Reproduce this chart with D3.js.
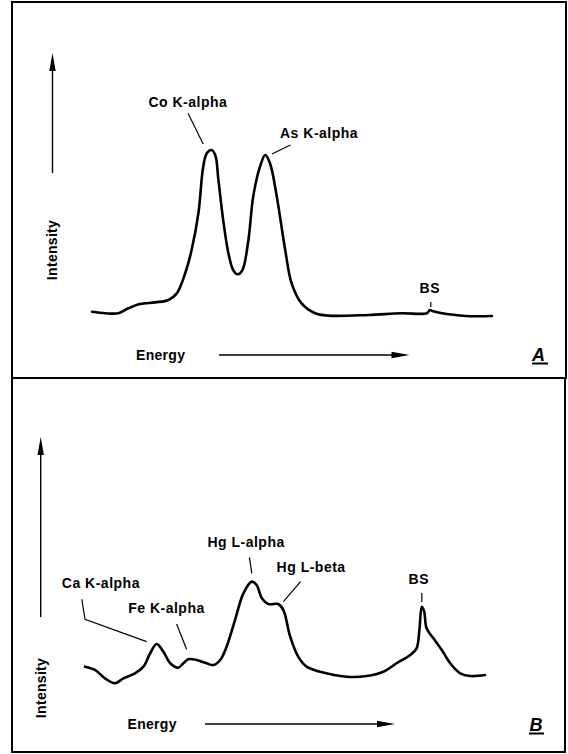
<!DOCTYPE html>
<html>
<head>
<meta charset="utf-8">
<script src="https://cdn.jsdelivr.net/npm/d3@7"></script>
<style>
  html, body { margin: 0; padding: 0; background: #fff; }
  svg { display: block; }
  text { font-family: "Liberation Sans", Arial, Helvetica, sans-serif; font-weight: bold; fill: #000; }
</style>
</head>
<body>
<svg id="chart" width="568" height="754"></svg>
<script>
// ---- Panel A: energy (arbitrary units 0-100) and intensity (relative, 0-100)
const energyA = [0, 3.3, 6.6, 9.1, 12, 15.8, 19.1, 21.2, 23.3, 24.9, 26.6, 27.8, 28.7, 29.8, 30.8, 31.6, 32.8, 34.1, 35.3, 36.4, 37.6, 39.1, 40.3, 42, 43.3, 44.5, 46.2, 48.3, 49.9, 52.4, 55.8, 59.1, 69.1, 77.4, 83.7, 84.5, 85.3, 93.3, 100];
const intensityA = [3.7, 2.8, 2.8, 5.7, 8.2, 9.2, 10.6, 14.5, 26.3, 40, 61.6, 89, 96.9, 98.8, 95.9, 81.2, 57.6, 38.1, 28.2, 25.7, 28.2, 45.9, 71.4, 89, 95.9, 91, 71.4, 40, 20.4, 8.6, 2.8, 1.4, 1.8, 2.8, 2.8, 4.7, 3.9, 1.2, 1.2];

// ---- Panel B
const energyB = [0, 2.5, 5, 7.5, 9.6, 12.5, 14.6, 16.3, 17.9, 19.6, 21.3, 23.3, 24.6, 25.8, 27.9, 30.4, 32.1, 33.8, 35.4, 37.5, 39.6, 41.7, 42.9, 44.2, 45.8, 48.3, 49.6, 51.3, 53.3, 55.4, 58.8, 65.4, 70.4, 74.6, 77.9, 81.3, 82.9, 83.6, 84.2, 84.8, 85.4, 87.1, 89.2, 91.3, 93.8, 96.3, 100];
const intensityB = [21.2, 18.2, 10.6, 6.1, 10.6, 15.2, 21.2, 33.4, 41.8, 34.8, 24.3, 20.3, 24.3, 27.9, 27.3, 24.3, 22.7, 27.3, 39.4, 63.6, 87.9, 98.5, 95.5, 83.4, 78.2, 78.2, 72.7, 48.5, 30.3, 21.2, 16.6, 12.1, 12.7, 16.6, 24.3, 31.8, 37.9, 54.5, 75.7, 71.2, 56.1, 47, 36.4, 24.3, 15.2, 12.7, 13.6];

// ---- Peak labels (text anchor in data units, leader polyline in data units)
const labelsA = ["Co K-alpha", "As K-alpha", "BS"];
const labelPosA = [[14.1, 124], [47, 106], [81.9, 14.7]];
const leadersA = [
  [[24, 120.4], [27.8, 102.4]],
  [[49.6, 101.8], [45, 96.5]],
  [[84.7, 9.4], [84.7, 6.5]]
];

const labelsB = ["Ca K-alpha", "Fe K-alpha", "Hg L-alpha", "Hg L-beta", "BS"];
const labelPosB = [[-5.8, 92.4], [10.8, 69.7], [30.6, 129.7], [47.9, 107.5], [80.9, 96.1]];
const leadersB = [
  [[-0.8, 82.5], [0, 64.3], [15.4, 44]],
  [[22.9, 60], [25.4, 37]],
  [[41.1, 120.6], [41.7, 106]],
  [[53.9, 98.5], [49.6, 80.3]],
  [[84.2, 88.2], [84.2, 80]]
];

const axisTexts = ["Intensity", "Energy"];
const panelNames = ["A", "B"];

// ---- Layout
const svg = d3.select("#chart");

const panels = [
  { box: [12, 2, 566, 378], x: [92, 492], y: [318, 148], e: energyA, v: intensityA,
    labels: labelsA, pos: labelPosA, leaders: leadersA,
    yArrow: { x: 52.5, y0: 173, y1: 53 }, yText: { x: 57, y: 250 },
    xArrow: { y: 355, x0: 219, x1: 409.5 }, xText: { x: 136, y: 360 },
    name: { x: 532, y: 360.5, ux0: 532, ux1: 548, uy: 363.5 } },
  { box: [12, 378, 565, 752], x: [85, 485], y: [690, 580], e: energyB, v: intensityB,
    labels: labelsB, pos: labelPosB, leaders: leadersB,
    yArrow: { x: 40.7, y0: 617, y1: 437 }, yText: { x: 45.5, y: 688 },
    xArrow: { y: 724, x0: 205, x1: 395 }, xText: { x: 127.5, y: 729 },
    name: { x: 529.5, y: 730.5, ux0: 529, ux1: 544, uy: 733.5 } }
];

panels.forEach((p, i) => {
  const g = svg.append("g");
  // frame
  g.append("rect")
    .attr("x", p.box[0]).attr("y", p.box[1])
    .attr("width", p.box[2] - p.box[0]).attr("height", p.box[3] - p.box[1])
    .attr("fill", "none").attr("stroke", "#000").attr("stroke-width", 2);

  const xs = d3.scaleLinear().domain([0, 100]).range(p.x);
  const ys = d3.scaleLinear().domain([0, 100]).range(p.y);

  // spectrum curve
  const pts = p.e.map((e, k) => [e, p.v[k]]);
  const line = d3.line().x(d => xs(d[0])).y(d => ys(d[1])).curve(d3.curveCatmullRom.alpha(0.5));
  g.append("path").attr("d", line(pts))
    .attr("fill", "none").attr("stroke", "#000").attr("stroke-width", 2.6)
    .attr("stroke-linejoin", "round").attr("stroke-linecap", "round");

  // peak labels
  p.labels.forEach((t, k) => {
    g.append("text").attr("x", xs(p.pos[k][0])).attr("y", ys(p.pos[k][1]))
      .attr("font-size", 14).attr("letter-spacing", 0.5).text(t);
    const ll = d3.line().x(d => xs(d[0])).y(d => ys(d[1]));
    g.append("path").attr("d", ll(p.leaders[k]))
      .attr("fill", "none").attr("stroke", "#000").attr("stroke-width", 1.2);
  });

  // intensity arrow (vertical)
  const ya = p.yArrow;
  g.append("line").attr("x1", ya.x).attr("x2", ya.x).attr("y1", ya.y0).attr("y2", ya.y1 + 10)
    .attr("stroke", "#000").attr("stroke-width", 1.4);
  g.append("path")
    .attr("d", `M${ya.x},${ya.y1} L${ya.x - 3.2},${ya.y1 + 18} L${ya.x + 3.2},${ya.y1 + 18} Z`)
    .attr("fill", "#000");
  g.append("text").attr("transform", `translate(${p.yText.x},${p.yText.y}) rotate(-90)`)
    .attr("text-anchor", "middle").attr("font-size", 14).attr("letter-spacing", 0.3)
    .text(axisTexts[0]);

  // energy arrow (horizontal)
  const xa = p.xArrow;
  g.append("line").attr("x1", xa.x0).attr("x2", xa.x1 - 10).attr("y1", xa.y).attr("y2", xa.y)
    .attr("stroke", "#000").attr("stroke-width", 1.4);
  g.append("path")
    .attr("d", `M${xa.x1},${xa.y} L${xa.x1 - 18},${xa.y - 3.2} L${xa.x1 - 18},${xa.y + 3.2} Z`)
    .attr("fill", "#000");
  g.append("text").attr("x", p.xText.x).attr("y", p.xText.y)
    .attr("font-size", 14).attr("letter-spacing", 0.3).text(axisTexts[1]);

  // panel name
  const n = p.name;
  g.append("text").attr("x", n.x).attr("y", n.y).attr("font-size", 18)
    .attr("font-style", "italic").text(panelNames[i]);
  g.append("line").attr("x1", n.ux0).attr("x2", n.ux1).attr("y1", n.uy).attr("y2", n.uy)
    .attr("stroke", "#000").attr("stroke-width", 2);
});
</script>
</body>
</html>
